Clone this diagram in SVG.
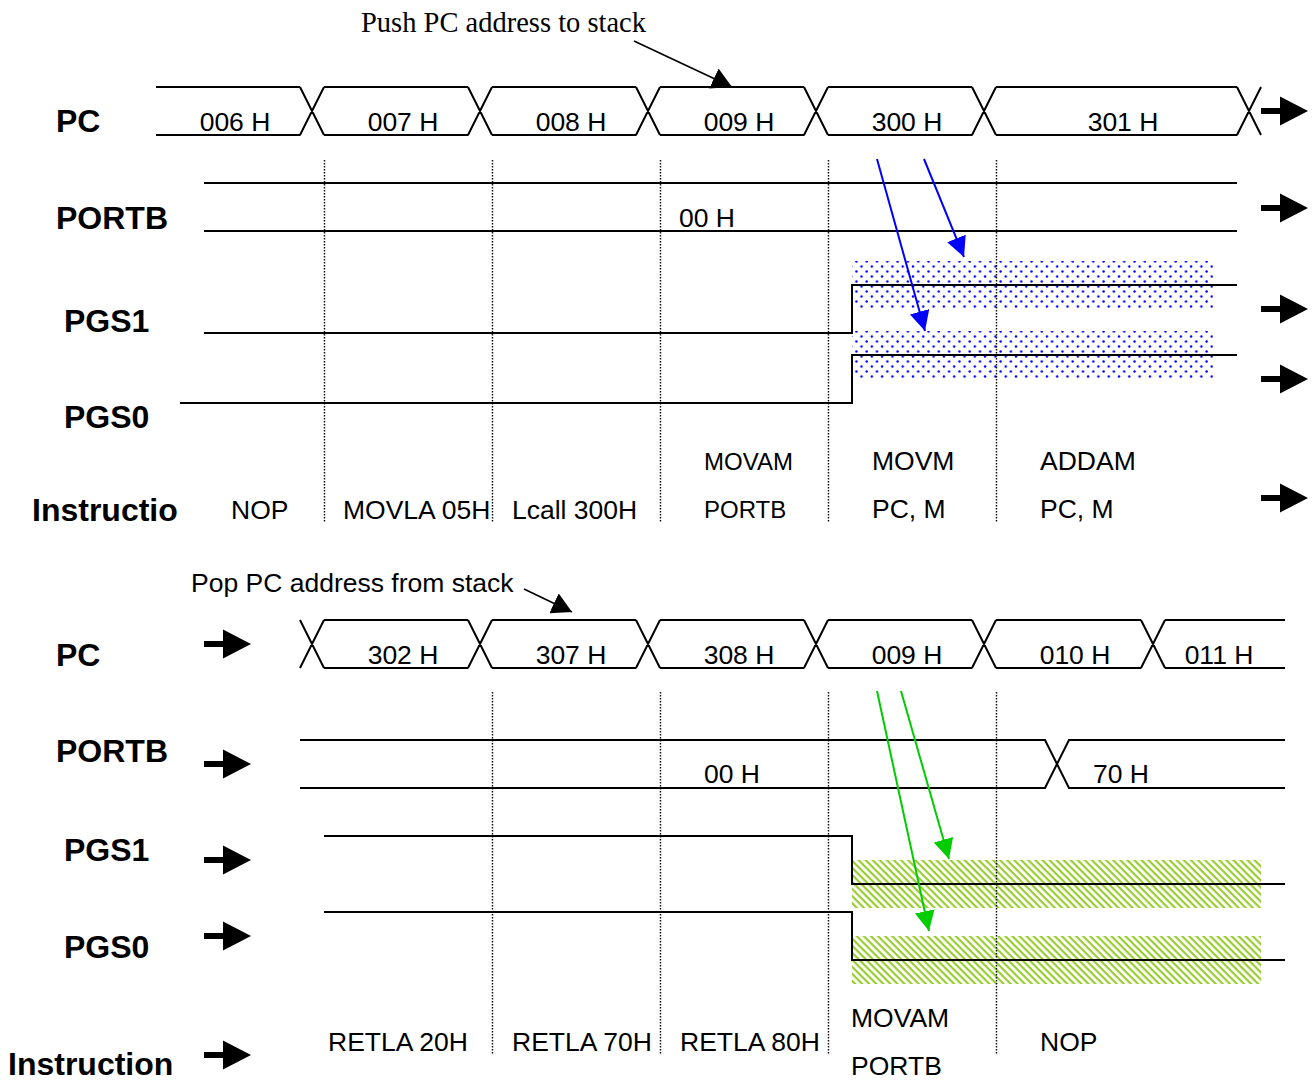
<svg xmlns="http://www.w3.org/2000/svg" width="1314" height="1082" viewBox="0 0 1314 1082">
<style>
text{font-family:"Liberation Sans",Arial,sans-serif;fill:#000}
.lbl{font-size:32px;font-weight:bold}
.v{font-size:26.5px}
.vc{font-size:26.5px;text-anchor:middle}
.s{font-size:24px}
.ser{font-family:"Liberation Serif","Times New Roman",serif;font-size:28.5px}
.w{fill:none;stroke:#000;stroke-width:2}
.dot{fill:none;stroke:#000;stroke-width:1.4;stroke-dasharray:1.5,1.5}
.fat{fill:#000}
.cb{fill:none;stroke:#000;stroke-width:1.6}
.cblue{fill:none;stroke:#0000ff;stroke-width:2}
.cgreen{fill:none;stroke:#00cc00;stroke-width:2}
</style>
<defs>
<pattern id="dots" x="0" y="0" width="10.3" height="10" patternUnits="userSpaceOnUse">
<circle cx="1.5" cy="1.5" r="1.2" fill="#0000ff"/>
<circle cx="6.6" cy="6.5" r="1.2" fill="#0000ff"/>
</pattern>
<pattern id="hatch" x="0" y="0" width="5" height="5" patternUnits="userSpaceOnUse" patternTransform="rotate(45)">
<rect x="0" y="0" width="5" height="2.2" fill="#9acd32"/>
</pattern>
<path id="fat" d="M0,-3 H19 V-14.5 L47,0 L19,14.5 V3 H0 Z"/>
<marker id="mk" markerWidth="20" markerHeight="22" refX="20" refY="11" orient="auto" markerUnits="userSpaceOnUse" viewBox="0 0 20 22"><path d="M0,0 L20,11 L0,22 z" fill="#000"/></marker>
<marker id="mb" markerWidth="20" markerHeight="20" refX="20" refY="10" orient="auto" markerUnits="userSpaceOnUse" viewBox="0 0 20 20"><path d="M0,0 L20,10 L0,20 z" fill="#0000ff"/></marker>
<marker id="mg" markerWidth="20" markerHeight="20" refX="20" refY="10" orient="auto" markerUnits="userSpaceOnUse" viewBox="0 0 20 20"><path d="M0,0 L20,10 L0,20 z" fill="#00cc00"/></marker>
</defs>
<rect width="1314" height="1082" fill="#fff"/>

<g id="bands">
<rect x="852" y="261" width="361" height="48" fill="url(#dots)"/>
<rect x="852" y="331" width="361" height="48" fill="url(#dots)"/>
<rect x="852" y="860" width="409" height="48" fill="url(#hatch)"/>
<rect x="852" y="936" width="409" height="48" fill="url(#hatch)"/>
</g>

<g id="grid">
<path class="dot" d="M324.5,160 V522 M492.5,160 V522 M660.5,160 V522 M828.5,160 V522 M996.5,160 V522"/>
<path class="dot" d="M492.5,692 V1055 M660.5,692 V1055 M828.5,692 V1055 M996.5,692 V1055"/>
</g>

<g id="top-pc">
<text class="lbl" x="56" y="132">PC</text>
<path class="w" d="M156,87 H300 M156,135 H300 M300,87 L324,135 M300,135 L324,87 M324,87 H468 M324,135 H468 M468,87 L492,135 M468,135 L492,87 M492,87 H636 M492,135 H636 M636,87 L660,135 M636,135 L660,87 M660,87 H804 M660,135 H804 M804,87 L828,135 M804,135 L828,87 M828,87 H972 M828,135 H972 M972,87 L996,135 M972,135 L996,87 M996,87 H1237 M996,135 H1237 M1237,87 L1261,135 M1237,135 L1261,87"/>
<text class="vc" x="235" y="131">006 H</text>
<text class="vc" x="403" y="131">007 H</text>
<text class="vc" x="571" y="131">008 H</text>
<text class="vc" x="739" y="131">009 H</text>
<text class="vc" x="907" y="131">300 H</text>
<text class="vc" x="1123" y="131">301 H</text>
<use href="#fat" class="fat" x="1261" y="111"/>
</g>

<g id="top-portb">
<text class="lbl" x="56" y="229">PORTB</text>
<path class="w" d="M204,183 H1237 M204,231 H1237"/>
<text class="vc" x="707" y="227">00 H</text>
<use href="#fat" class="fat" x="1261" y="208"/>
</g>

<g id="top-pgs1">
<text class="lbl" x="64" y="332">PGS1</text>
<path class="w" d="M204,333 H852 V285 H1237"/>
<use href="#fat" class="fat" x="1261" y="309"/>
</g>

<g id="top-pgs0">
<text class="lbl" x="64" y="428">PGS0</text>
<path class="w" d="M180,403 H852 V355 H1237"/>
<use href="#fat" class="fat" x="1261" y="379"/>
</g>

<g id="top-instr">
<text class="lbl" x="32" y="521">Instructio</text>
<text class="v" x="231" y="519">NOP</text>
<text class="v" x="343" y="519">MOVLA 05H</text>
<text class="v" x="512" y="519">Lcall 300H</text>
<text class="s" x="704" y="470">MOVAM</text>
<text class="s" x="704" y="518">PORTB</text>
<text class="v" x="872" y="470">MOVM</text>
<text class="v" x="872" y="518">PC, M</text>
<text class="v" x="1040" y="470">ADDAM</text>
<text class="v" x="1040" y="518">PC, M</text>
<use href="#fat" class="fat" x="1261" y="498"/>
</g>

<g id="note-push">
<text class="ser" x="361" y="32">Push PC address to stack</text>
</g>

<g id="bot-pc">
<text class="lbl" x="56" y="666">PC</text>
<use href="#fat" class="fat" x="204" y="644"/>
<path class="w" d="M300,620 L324,668 M300,668 L324,620 M324,620 H468 M324,668 H468 M468,620 L492,668 M468,668 L492,620 M492,620 H636 M492,668 H636 M636,620 L660,668 M636,668 L660,620 M660,620 H804 M660,668 H804 M804,620 L828,668 M804,668 L828,620 M828,620 H972 M828,668 H972 M972,620 L996,668 M972,668 L996,620 M996,620 H1141 M996,668 H1141 M1141,620 L1165,668 M1141,668 L1165,620 M1165,620 H1285 M1165,668 H1285"/>
<text class="vc" x="403" y="664">302 H</text>
<text class="vc" x="571" y="664">307 H</text>
<text class="vc" x="739" y="664">308 H</text>
<text class="vc" x="907" y="664">009 H</text>
<text class="vc" x="1075" y="664">010 H</text>
<text class="vc" x="1219" y="664">011 H</text>
</g>

<g id="bot-portb">
<text class="lbl" x="56" y="762">PORTB</text>
<use href="#fat" class="fat" x="204" y="764"/>
<path class="w" d="M300,740 H1045 L1069,788 H1285 M300,788 H1045 L1069,740 H1285"/>
<text class="vc" x="732" y="783">00 H</text>
<text class="vc" x="1121" y="783">70 H</text>
</g>

<g id="bot-pgs1">
<text class="lbl" x="64" y="861">PGS1</text>
<use href="#fat" class="fat" x="204" y="860"/>
<path class="w" d="M324,836 H852 V884 H1285"/>
</g>

<g id="bot-pgs0">
<text class="lbl" x="64" y="958">PGS0</text>
<use href="#fat" class="fat" x="204" y="936"/>
<path class="w" d="M324,912 H852 V960 H1285"/>
</g>

<g id="bot-instr">
<text class="lbl" x="8" y="1075">Instruction</text>
<use href="#fat" class="fat" x="204" y="1055"/>
<text class="v" x="328" y="1051">RETLA 20H</text>
<text class="v" x="512" y="1051">RETLA 70H</text>
<text class="v" x="680" y="1051">RETLA 80H</text>
<text class="v" x="851" y="1027">MOVAM</text>
<text class="v" x="851" y="1075">PORTB</text>
<text class="v" x="1040" y="1051">NOP</text>
</g>

<g id="note-pop">
<text class="v" x="191" y="592">Pop PC address from stack</text>
</g>

<g id="connectors">
<path class="cb" d="M634,41 L732,87" marker-end="url(#mk)"/>
<path class="cb" d="M524,589 L572,612" marker-end="url(#mk)"/>
<path class="cblue" d="M877,159 L925,331" marker-end="url(#mb)"/>
<path class="cblue" d="M924,159 L964,257" marker-end="url(#mb)"/>
<path class="cgreen" d="M877,691 L929,931" marker-end="url(#mg)"/>
<path class="cgreen" d="M901,691 L949,859" marker-end="url(#mg)"/>
</g>
</svg>
